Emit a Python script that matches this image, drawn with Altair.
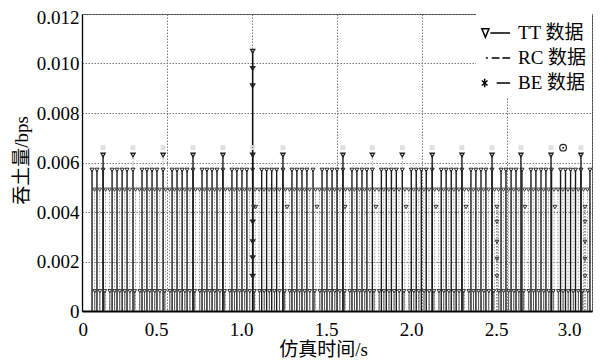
import altair as alt
import pandas as pd

FONT = "'Liberation Serif', 'Times New Roman', 'Noto Sans CJK SC', serif"

X_TICKS = [0, 0.5, 1.0, 1.5, 2.0, 2.5, 3.0]
Y_TICKS = [0, 0.002, 0.004, 0.006, 0.008, 0.010, 0.012]

# period start times (s)
PERIOD_BASES = [-0.053, 0.124, 0.300, 0.477, 0.653, 0.829, 1.004, 1.182, 1.359,
                1.535, 1.708, 1.884, 2.060, 2.235, 2.412, 2.588, 2.762, 2.935]
TT_OFFSETS = [0.0, 0.053, 0.082, 0.112, 0.141]
TT_LEVEL = 0.0057
RC_OFFSETS = [0.015, 0.038, 0.067, 0.097, 0.127, 0.157]
RC_LEVEL = 0.0049
BE_OFFSETS = [0.010, 0.040, 0.068, 0.098, 0.128, 0.158]
BE_LEVEL = 0.0008

PEAK_TIMES = [0.124, 0.300, 0.477, 0.653, 0.829, 1.004, 1.182, 1.535, 1.708,
              1.884, 2.060, 2.235, 2.412, 2.582, 2.759, 2.935]
PEAK_SOLID = [1, 0, 0, 1, 1, 1, 1, 1, 0, 0, 1, 1, 1, 1, 1, 1]
PEAK_LEVEL = 0.0063
PEAK_FAINT = 0.0066

MID_TIMES = [1.010, 1.022, 1.206, 1.382, 1.547, 1.729, 1.906, 2.082, 2.259,
             2.441, 2.606, 2.782, 2.959]
MID_LEVEL = 0.0042

BURST_TIME = 1.004
BURST_LEVELS = [0.0105, 0.0098, 0.0091, 0.0036, 0.0028, 0.00215, 0.0014]
BURST2_TIMES = [2.441, 2.959]
BURST2_LEVELS = [0.0036, 0.0028, 0.0021, 0.0014]

CIRCLE_T = [2.83]
CIRCLE_V = [0.0066]

SERIES = ["TT 数据", "RC 数据", "BE 数据"]


def expand(offsets):
    return [round(b + o, 4) for b in PERIOD_BASES for o in offsets if 0.05 <= b + o <= 2.995]


tt_df = pd.DataFrame({"t": expand(TT_OFFSETS)}).assign(v=TT_LEVEL)
rc_df = pd.DataFrame({"t": expand(RC_OFFSETS)}).assign(v=RC_LEVEL)
be_df = pd.DataFrame({"t": expand(BE_OFFSETS)}).assign(v=BE_LEVEL)
peak_df = pd.DataFrame({"t": PEAK_TIMES, "solid": PEAK_SOLID}).assign(v=PEAK_LEVEL)
faint_df = pd.DataFrame({"t": PEAK_TIMES}).assign(v=PEAK_FAINT)
mid_df = pd.DataFrame({"t": MID_TIMES}).assign(v=MID_LEVEL)
burst_df = pd.DataFrame({"t": [BURST_TIME] * len(BURST_LEVELS), "v": BURST_LEVELS})
burst2_df = pd.DataFrame({"t": [t for t in BURST2_TIMES for _ in BURST2_LEVELS],
                          "v": [v for _ in BURST2_TIMES for v in BURST2_LEVELS]})
burst2_stem = pd.DataFrame({"t": BURST2_TIMES}).assign(v=MID_LEVEL)
tall_df = pd.DataFrame({"t": [BURST_TIME], "v": [max(BURST_LEVELS)]})
circle_df = pd.DataFrame({"t": CIRCLE_T, "v": CIRCLE_V})
legend_df = pd.DataFrame({"series": SERIES})

x_enc = alt.X(
    "t:Q",
    scale=alt.Scale(domain=[0, 3.0], nice=False, zero=False),
    axis=alt.Axis(
        values=X_TICKS, title="仿真时间/s", ticks=False, grid=True,
        labelExpr="datum.value == 0 ? '0' : format(datum.value, '.1f')",
        labelOffset={"condition": {"test": "datum.value == 0", "value": -4}, "value": -11},
        labelPadding=9, titleX=241, titleY=38, titleBaseline="middle",
        domainWidth=2,
    ),
)
y_enc = alt.Y(
    "v:Q",
    scale=alt.Scale(domain=[0, 0.012], nice=False, zero=True),
    axis=alt.Axis(
        values=Y_TICKS, title="吞土量/bps", ticks=False, grid=True,
        labelExpr="datum.value == 0 ? '0' : format(datum.value, '.3f')",
        labelOffset={"condition": {"test": "datum.value >= 0.0119", "value": 3}, "value": 0},
        labelPadding=3, titleX=-61, titleY=146, titleBaseline="middle",
        titleAlign="center", titleAngle=-90, domainWidth=1.3,
    ),
)
zero = alt.datum(0)

rc_stems = alt.Chart(rc_df).mark_rule(color="#9a9a9a", strokeWidth=1, strokeDash=[1.5, 1.5], clip=True).encode(x=x_enc, y=y_enc, y2=zero)
be_stems = alt.Chart(be_df).mark_rule(color="#555555", strokeWidth=1, clip=True).encode(x=x_enc, y=y_enc, y2=zero)
peak_dot = alt.Chart(peak_df[peak_df.solid == 0]).mark_rule(color="#999999", strokeWidth=1, strokeDash=[1.5, 1.5], clip=True).encode(x=x_enc, y=y_enc, y2=zero)
peak_sol = alt.Chart(peak_df[peak_df.solid == 1]).mark_rule(color="#1a1a1a", strokeWidth=1.4, clip=True).encode(x=x_enc, y=y_enc, y2=zero)
tt_stems = alt.Chart(tt_df).mark_rule(color="#1a1a1a", strokeWidth=1.4, clip=True).encode(x=x_enc, y=y_enc, y2=zero)
b2_stems = alt.Chart(burst2_stem).mark_rule(color="#555555", strokeWidth=1.2, strokeDash=[1.5, 1.5], clip=True).encode(x=x_enc, y=y_enc, y2=zero)
tall = alt.Chart(tall_df).mark_rule(color="#111111", strokeWidth=1.6, clip=True).encode(x=x_enc, y=y_enc, y2=zero)


def tri(df, color="#222222", size=16, sw=1):
    return alt.Chart(df).mark_point(shape="triangle-down", filled=False, size=size, color=color,
                                    strokeWidth=sw, opacity=1, clip=True).encode(x=x_enc, y=y_enc)


rc_pts = tri(rc_df, "#444444", 14)
be_pts = tri(be_df, "#333333", 14)
tt_pts = tri(tt_df, "#222222", 16)
peak_pts = tri(peak_df, "#222222", 18, 1.3)
mid_pts = tri(mid_df, "#333333", 16)
burst_pts = tri(burst_df, "#222222", 18, 1.3)
burst2_pts = tri(burst2_df, "#333333", 14)
faint_pts = alt.Chart(faint_df).mark_point(shape="square", filled=False, size=8, color="#dddddd", opacity=1, clip=True).encode(x=x_enc, y=y_enc)
circ = alt.Chart(circle_df).mark_point(shape="circle", filled=False, size=45, color="#222222", strokeWidth=1.2, opacity=1).encode(x=x_enc, y=y_enc)
circ_dot = alt.Chart(circle_df).mark_point(shape="circle", filled=True, size=4, color="#222222", opacity=1).encode(x=x_enc, y=y_enc)

TT_PATH = "M-1,-0.3 L-0.75,0.3 L-0.5,-0.3 Z M-0.4,0 L1,0"
RC_PATH = "M-0.72,0 L-0.58,0 M-0.3,0 L0.25,0 M0.45,0 L1,0"
BE_PATH = "M-0.8,-0.3 L-0.8,0.3 M-1,-0.18 L-0.6,0.18 M-1,0.18 L-0.6,-0.18 M0.05,0 L1,0"

legend_layer = alt.Chart(legend_df).mark_point(filled=False, opacity=0, color="black").encode(
    shape=alt.Shape(
        "series:N",
        scale=alt.Scale(domain=SERIES, range=[TT_PATH, RC_PATH, BE_PATH]),
        legend=alt.Legend(
            title=None, orient="none", legendX=394, legendY=-1, padding=5,
            fillColor="white", labelFont=FONT, labelFontSize=19, labelColor="black",
            symbolSize=800, symbolStrokeWidth=1.5, symbolStrokeColor="black",
            symbolFillColor="white", symbolOpacity=1, labelOffset=7, rowPadding=-4.5,
        ),
    )
)

chart = alt.layer(
    rc_stems, peak_dot, b2_stems, be_stems, tt_stems, peak_sol, tall,
    rc_pts, be_pts, tt_pts, peak_pts, mid_pts, burst_pts, burst2_pts, faint_pts,
    circ, circ_dot, legend_layer,
).properties(
    width=510, height=297,
    autosize=alt.AutoSizeParams(type="none"),
    padding={"left": 74, "top": 6, "right": 8, "bottom": 50},
    background="white",
).configure(font=FONT).configure_axis(
    labelFont=FONT, titleFont=FONT, labelFontSize=19, titleFontSize=19,
    labelColor="black", titleColor="black", titleFontWeight="normal",
    domainColor="black", gridColor="#777777", gridDash=[1.5, 1.5], gridWidth=1,
    gridOpacity=1,
).configure_legend(labelFont=FONT).configure_view(stroke="#444444", strokeWidth=1)

chart.save("out.html", embed_options={"renderer": "svg", "actions": False})
